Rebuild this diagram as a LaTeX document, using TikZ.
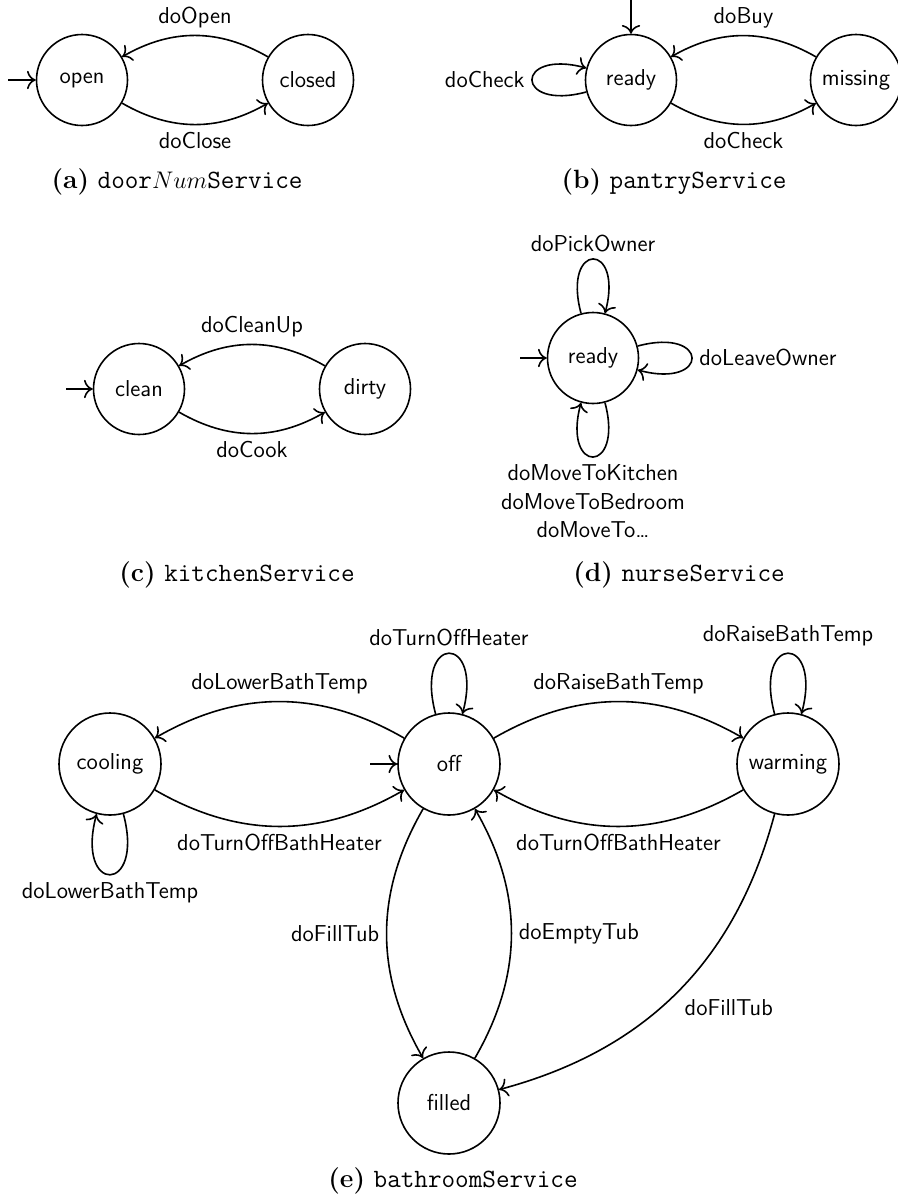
\documentclass[tikz,border=0pt]{standalone}
\usetikzlibrary{arrows.meta}
\begin{document}
\begin{tikzpicture}[x=0.5pt,y=0.5pt,line width=0.8pt,>={To[scale=1.3]},
  font=\fontsize{11.5}{14.4}\selectfont\sffamily,
  stnode/.style={circle,draw,inner sep=0pt,minimum size=45.5pt},
  bigstnode/.style={stnode,minimum size=51pt},
  trans/.style={->},
  subcap/.style={anchor=base,font=\fontsize{13.2}{16}\selectfont\rmfamily}]
\useasboundingbox (0,0) rectangle (898,-1200);

% (a) door service
\node[stnode] (open) at (82,-80) {open};
\node[stnode] (closed) at (308,-80) {closed};
\coordinate (openinit) at (8,-80);
\draw[trans] (openinit) -- (open);
\draw[trans] (closed) to[bend right] node[above] {doOpen} (open);
\draw[trans] (open) to[bend right] node[below] {doClose} (closed);
\node[subcap] (capa) at (177,-188) {\textbf{(a)} \texttt{door}$Num$\texttt{Service}};

% (b) pantry service
\node[stnode] (ready) at (631,-80) {ready};
\node[stnode] (missing) at (856,-80) {missing};
\coordinate (readyinit) at (631,0);
\draw[trans] (readyinit) -- (ready);
\draw[trans] (ready) to[loop left] node[left] {doCheck} (ready);
\draw[trans] (missing) to[bend right] node[above] {doBuy} (ready);
\draw[trans] (ready) to[bend right] node[below] {doCheck} (missing);
\node[subcap] (capb) at (674,-188) {\textbf{(b)} \texttt{pantryService}};

% (c) kitchen service
\node[stnode] (clean) at (139,-389) {clean};
\node[stnode] (dirty) at (365,-389) {dirty};
\coordinate (cleaninit) at (66,-389);
\draw[trans] (cleaninit) -- (clean);
\draw[trans] (dirty) to[bend right] node[above] {doCleanUp} (clean);
\draw[trans] (clean) to[bend right] node[below] {doCook} (dirty);
\node[subcap] (capc) at (237,-581) {\textbf{(c)} \texttt{kitchenService}};

% (d) nurse service
\node[stnode] (nready) at (593,-358) {ready};
\coordinate (nreadyinit) at (520,-358);
\draw[trans] (nreadyinit) -- (nready);
\draw[trans] (nready) to[loop above] node[above] {doPickOwner} (nready);
\draw[trans] (nready) to[loop right] node[right] {doLeaveOwner} (nready);
\draw[trans] (nready) to[loop below] node[below,align=center]
  {doMoveToKitchen\\doMoveToBedroom\\doMoveTo\ldots} (nready);
\node[subcap] (capd) at (679,-581) {\textbf{(d)} \texttt{nurseService}};

% (e) bathroom service
\node[bigstnode] (cooling) at (110,-764) {cooling};
\node[bigstnode] (off) at (449,-764) {off};
\node[bigstnode] (warming) at (788,-764) {warming};
\node[bigstnode] (filled) at (449,-1103) {filled};
\coordinate (offinit) at (370,-764);
\draw[trans] (offinit) -- (off);
\draw[trans] (off) to[bend right] node[above] {doLowerBathTemp} (cooling);
\draw[trans] (cooling) to[bend right] node[below] {doTurnOffBathHeater} (off);
\draw[trans] (off) to[bend left] node[above] {doRaiseBathTemp} (warming);
\draw[trans] (warming) to[bend left] node[below] {doTurnOffBathHeater} (off);
\draw[trans] (off) to[loop above] node[above] {doTurnOffHeater} (off);
\draw[trans] (warming) to[loop above] node[above] {doRaiseBathTemp} (warming);
\draw[trans] (cooling) to[loop below] node[below] {doLowerBathTemp} (cooling);
\draw[trans] (off) to[bend right] node[left] {doFillTub} (filled);
\draw[trans] (filled) to[bend right] node[right] {doEmptyTub} (off);
\draw[trans] (warming) to[bend left] node[below right] {doFillTub} (filled);
\node[subcap] (cape) at (453,-1187) {\textbf{(e)} \texttt{bathroomService}};
\end{tikzpicture}
\end{document}
